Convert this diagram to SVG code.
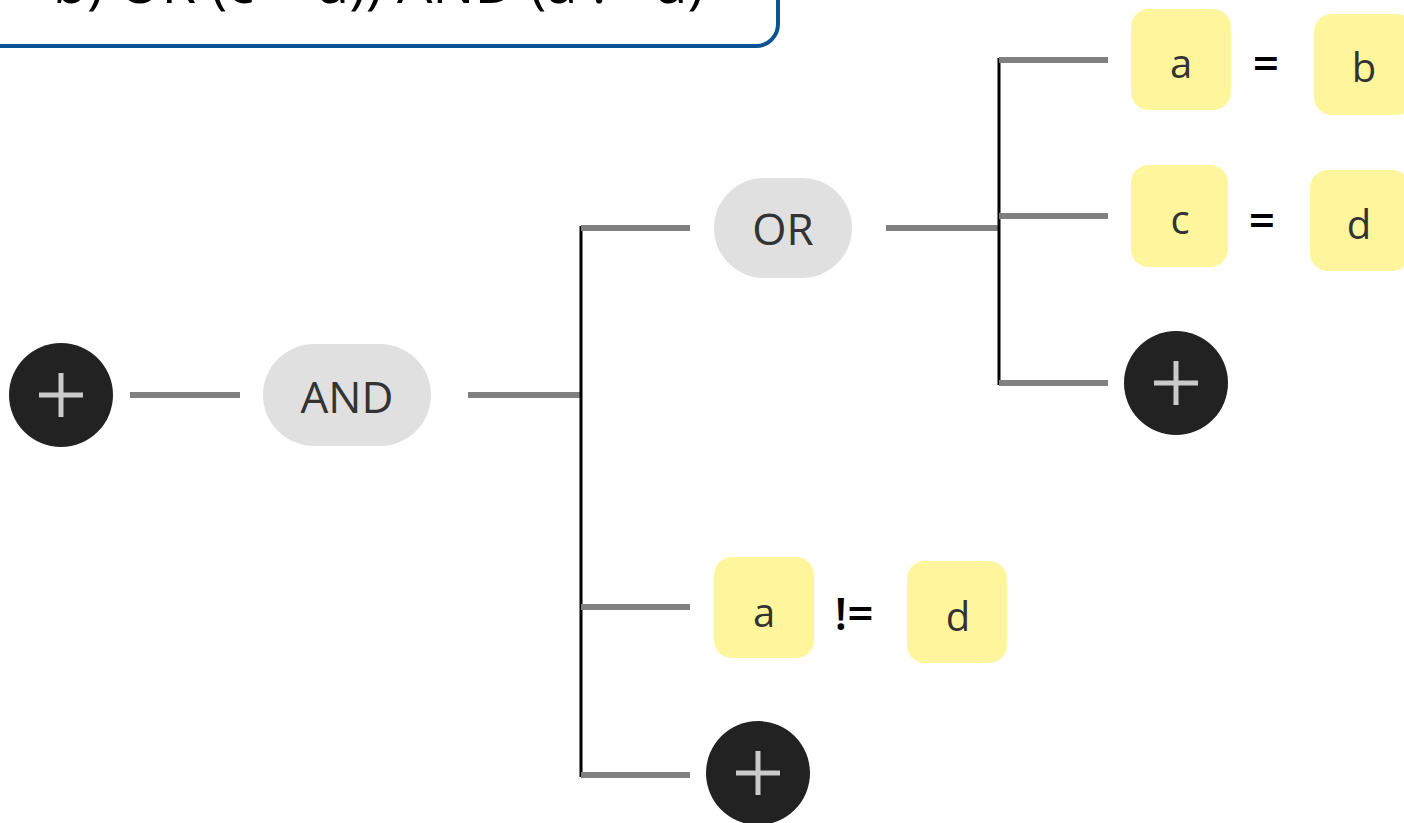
<svg xmlns="http://www.w3.org/2000/svg" width="1404" height="823" viewBox="0 0 1404 823">
<style>
.conn{stroke:#808080;stroke-width:6;fill:none}
.trunk{stroke:#000;stroke-width:3;fill:none}
.pill{fill:#e0e0e0}
.val{fill:#fff59d}
.plus{fill:#222}
.pbar{stroke:#cacaca;stroke-width:5}
.lbl{font-family:"Open Sans","Noto Sans","DejaVu Sans",sans-serif;fill:#333;text-anchor:middle}
.op{font-family:"Open Sans","Noto Sans","DejaVu Sans",sans-serif;fill:#000;text-anchor:middle;font-size:46px;font-weight:600}
</style>
<rect x="0" y="0" width="1404" height="823" fill="#fff"/>
<g id="title">
<rect x="-30" y="-100" width="808" height="146" rx="22" fill="#fff" stroke="#0b5394" stroke-width="4"/>
<text x="704" y="3" font-family="'Open Sans','Noto Sans',sans-serif" font-size="56" fill="#000" text-anchor="end">((a = b) OR (c = d)) AND (a != d)</text>
</g>
<g id="connectors">
<line class="conn" x1="130" y1="395" x2="240" y2="395"/>
<line class="conn" x1="468" y1="395" x2="581" y2="395"/>
<line class="trunk" x1="581" y1="226" x2="581" y2="777"/>
<line class="conn" x1="581" y1="228" x2="690" y2="228"/>
<line class="conn" x1="581" y1="607" x2="690" y2="607"/>
<line class="conn" x1="581" y1="775" x2="690" y2="775"/>
<line class="conn" x1="886" y1="228" x2="999" y2="228"/>
<line class="trunk" x1="999" y1="58" x2="999" y2="385"/>
<line class="conn" x1="999" y1="60" x2="1108" y2="60"/>
<line class="conn" x1="999" y1="216" x2="1108" y2="216"/>
<line class="conn" x1="999" y1="383" x2="1108" y2="383"/>
</g>
<g id="add-root">
<circle class="plus" cx="61" cy="395" r="52"/>
<line class="pbar" x1="39" y1="395" x2="83" y2="395"/>
<line class="pbar" x1="61" y1="373" x2="61" y2="417"/>
</g>
<g id="and">
<rect class="pill" x="263" y="344" width="168" height="102" rx="51"/>
<text class="lbl" x="347" y="413" font-size="44">AND</text>
</g>
<g id="or">
<rect class="pill" x="714" y="178" width="138" height="100" rx="50"/>
<text class="lbl" x="783" y="245" font-size="44">OR</text>
</g>
<g id="cond-a-eq-b">
<rect class="val" x="1131" y="9" width="100" height="101" rx="18"/>
<text class="lbl" x="1181" y="78" font-size="40">a</text>
<text class="op" x="1266" y="80">=</text>
<rect class="val" x="1314" y="14" width="100" height="101" rx="18"/>
<text class="lbl" x="1364" y="82" font-size="40">b</text>
</g>
<g id="cond-c-eq-d">
<rect class="val" x="1131" y="165" width="97" height="102" rx="18"/>
<text class="lbl" x="1180" y="234" font-size="40">c</text>
<text class="op" x="1262" y="237">=</text>
<rect class="val" x="1310" y="170" width="100" height="101" rx="18"/>
<text class="lbl" x="1359" y="239" font-size="40">d</text>
</g>
<g id="add-or">
<circle class="plus" cx="1176" cy="383" r="52"/>
<line class="pbar" x1="1154" y1="383" x2="1198" y2="383"/>
<line class="pbar" x1="1176" y1="361" x2="1176" y2="405"/>
</g>
<g id="cond-a-ne-d">
<rect class="val" x="714" y="557" width="100" height="101" rx="18"/>
<text class="lbl" x="764" y="627" font-size="40">a</text>
<text class="op" x="854" y="630">!=</text>
<rect class="val" x="907" y="561" width="100" height="102" rx="18"/>
<text class="lbl" x="958" y="631" font-size="40">d</text>
</g>
<g id="add-and">
<circle class="plus" cx="758" cy="773" r="52"/>
<line class="pbar" x1="736" y1="773" x2="780" y2="773"/>
<line class="pbar" x1="758" y1="751" x2="758" y2="795"/>
</g>
</svg>
